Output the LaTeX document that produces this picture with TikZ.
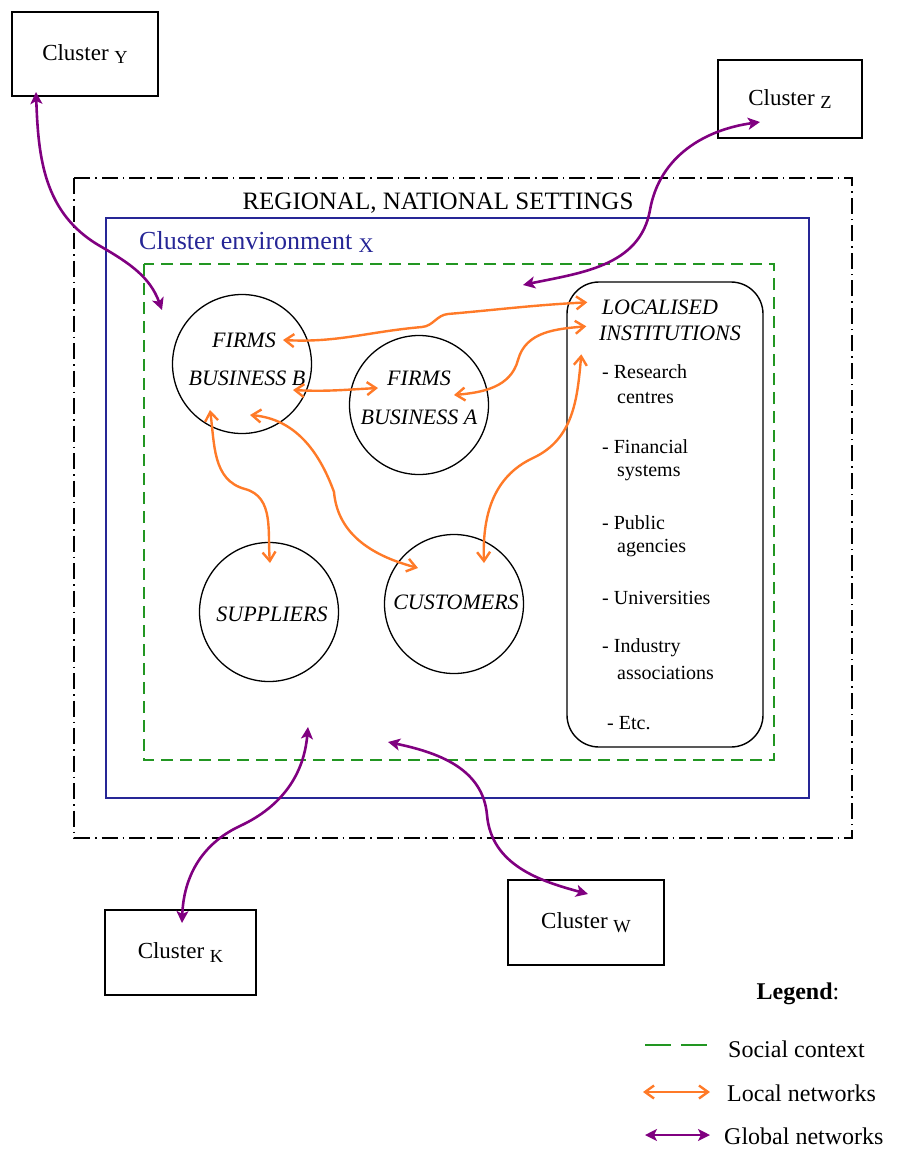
\documentclass[tikz,border=0pt]{standalone}
\usepackage{graphicx}
\usepackage{fontspec}
\setmainfont{Liberation Serif}
\usetikzlibrary{calc, positioning, arrows.meta}
\definecolor{locorange}{RGB}{255,122,40}
\definecolor{glopurple}{RGB}{128,0,128}
\definecolor{socgreen}{RGB}{34,150,34}
\definecolor{envblue}{RGB}{38,38,150}
\tikzset{
    loctip/.tip={Straight Barb[length=9pt, width=13pt]},
    glotip/.tip={Stealth[length=12pt, width=12pt, inset=3pt]}
}
\newcommand{\lowcap}[1]{\raisebox{-0.15em}{\scalebox{0.8}{#1}}}

\begin{document}
\begin{tikzpicture}[x=1pt, y=1pt]%{{{
        \useasboundingbox (0, 0) rectangle (901, -1149);

        % settings, environment, social context
        \draw [line width=1.6pt, dash pattern=on 16pt off 5pt on 1.5pt off 5pt] (74, -178) rectangle (852, -838);
        \draw [envblue, line width=1.5pt] (106, -218) rectangle (809, -798);
        \draw [socgreen, line width=2.3pt, dash pattern=on 12pt off 7pt] (144, -264) rectangle (774, -760);

        \node [font=\fontsize{25}{25}\selectfont] (RG) at (438, -203) {REGIONAL, NATIONAL SETTINGS};
        \node [anchor=west, inner sep=0pt, text=envblue, font=\fontsize{26}{26}\selectfont] (CE) at (139, -242) {Cluster environment \lowcap{X}};

        \tikzstyle{b} = [draw, line width=1.6pt, inner sep=0pt, font=\fontsize{23}{23}\selectfont];
        \node [b, minimum width=146pt, minimum height=84pt] (CY) at (85, -54) {Cluster \lowcap{Y}};
        \node [b, minimum width=144pt, minimum height=78pt] (CZ) at (790, -99) {Cluster \lowcap{Z}};
        \node [b, minimum width=151pt, minimum height=85pt] (CK) at (180.5, -952.5) {Cluster \lowcap{K}};
        \node [b, minimum width=156pt, minimum height=85pt] (CW) at (586, -922.5) {Cluster \lowcap{W}};

        \tikzstyle{c} = [draw, circle, line width=1.3pt, minimum size=139pt, inner sep=0pt];
        \node [c] (FB) at (242, -364) { };
        \node [c] (FA) at (419, -405) { };
        \node [c] (SU) at (269, -612) { };
        \node [c] (CU) at (454, -604) { };

        \tikzstyle{ct} = [inner sep=0pt, font=\fontsize{22}{22}\selectfont\itshape];
        \node [ct] (FBt1) at ($(FB) + (2, 24)$) {FIRMS};
        \node [ct] (FBt2) at ($(FB) + (5, -14)$) {BUSINESS B};
        \node [ct] (FAt1) at ($(FA) + (0, 27)$) {FIRMS};
        \node [ct] (FAt2) at ($(FA) + (0, -12)$) {BUSINESS A};
        \node [ct] (SUt) at ($(SU) + (3, -2)$) {SUPPLIERS};
        \node [ct] (CUt) at ($(CU) + (2, 2)$) {CUSTOMERS};

        % localised institutions
        \node [draw, rounded corners=32pt, line width=1.4pt, minimum width=196pt, minimum height=465pt] (LI) at (665, -514.5) { };
        \node [ct] (LIt1) at (660, -307) {LOCALISED};
        \node [ct] (LIt2) at (670, -333) {INSTITUTIONS};

        \tikzstyle{li} = [anchor=west, inner sep=0pt, font=\fontsize{20}{20}\selectfont];
        \foreach \ly/\lx/\lt [count=\i] in {372/602/- Research, 398/617/centres, 447/602/- Financial, 473/617/systems,
                523/602/- Public, 548/617/agencies, 598/602/- Universities, 648/602/- Industry,
                673/617/associations, 723/607/- Etc.}{
            \node [li] (LIi\i) at (\lx, -\ly) {\lt};
        }

        % local networks
        \tikzstyle{loc} = [draw=locorange, line width=2.4pt, loctip-loctip];
        \coordinate (o1a) at ($(FB) + (41, 24)$);
        \coordinate (o2a) at ($(FB) + (51, -26)$);
        \coordinate (o5a) at ($(FB) + (-32, -46)$);
        \coordinate (o6a) at ($(FB) + (8, -51)$);
        \coordinate (o2b) at ($(FA) + (-41, 17)$);
        \coordinate (o3a) at ($(FA) + (35, 10)$);
        \coordinate (o5b) at ($(SU) + (1, 49)$);
        \coordinate (o6b) at ($(CU) + (-36, 36)$);
        \coordinate (o4b) at ($(CU) + (30, 41)$);
        \coordinate (o1b) at ($(LI.north west) + (21, -21)$);
        \coordinate (o3b) at ($(LI.north west) + (20, -45)$);
        \coordinate (o4a) at ($(LI.north west) + (15, -73)$);

        \draw [loc] (o1a) to[out=-3, in=185] (422, -327) to[out=5, in=185] (448, -314) to[out=5, in=183] (o1b);
        \draw [loc] (o2a) to[out=-3, in=183] (o2b);
        \draw [loc] (o3a) to[out=5, in=255] (518, -360) to[out=75, in=185] (o3b);
        \draw [loc] (o4a) to[out=-95, in=25] (533, -458) to[out=205, in=92] (o4b);
        \draw [loc] (o5a) to[out=-82, in=165] (245, -489) to[out=-15, in=95] (o5b);
        \draw [loc] (o6a) to[out=-5, in=110] (334, -492) to[out=-85, in=165] (o6b);

        % global networks
        \tikzstyle{glo} = [draw=glopurple, line width=2.6pt, glotip-glotip];
        \coordinate (gY) at ($(CY) + (-49, -38)$);
        \coordinate (gZ) at ($(CZ) + (-30, -23)$);
        \coordinate (gK) at ($(CK) + (1.5, 29.5)$);
        \coordinate (gW) at ($(CW) + (2, 28.5)$);
        \coordinate (P1) at (162, -310);
        \coordinate (P2) at (523, -285);
        \coordinate (P3) at (308, -727);
        \coordinate (P4) at (388, -742);

        \draw [glo] (gY) to[out=-88, in=150] (100, -246) to[out=-30, in=110] (P1);
        \draw [glo] (gZ) to[out=188, in=80] (650, -210) to[out=260, in=12] (P2);
        \draw [glo] (P3) to[out=-95, in=25] (240, -826) to[out=205, in=88] (gK);
        \draw [glo] (P4) to[out=-12, in=95] (487, -815) to[out=-85, in=165] (gW);

        % legend
        \tikzstyle{lg} = [anchor=west, inner sep=0pt, font=\fontsize{24}{24}\selectfont];
        \node [font=\fontsize{24}{24}\selectfont] (LG) at (798, -994) {\textbf{Legend}:};
        \coordinate (L1a) at (645, -1045);
        \coordinate (L1b) at (707, -1045);
        \coordinate (L2a) at (643, -1092);
        \coordinate (L2b) at (710, -1092);
        \coordinate (L3a) at (645, -1135);
        \coordinate (L3b) at (710, -1135);
        \draw [socgreen, line width=2.6pt, dash pattern=on 26pt off 10pt] (L1a) -- (L1b);
        \draw [loc] (L2a) -- (L2b);
        \draw [glo] (L3a) -- (L3b);
        \node [lg] (LG1) at (728, -1049) {Social context};
        \node [lg] (LG2) at (727, -1093) {Local networks};
        \node [lg] (LG3) at (724, -1136) {Global networks};
    \end{tikzpicture}
\end{document}
